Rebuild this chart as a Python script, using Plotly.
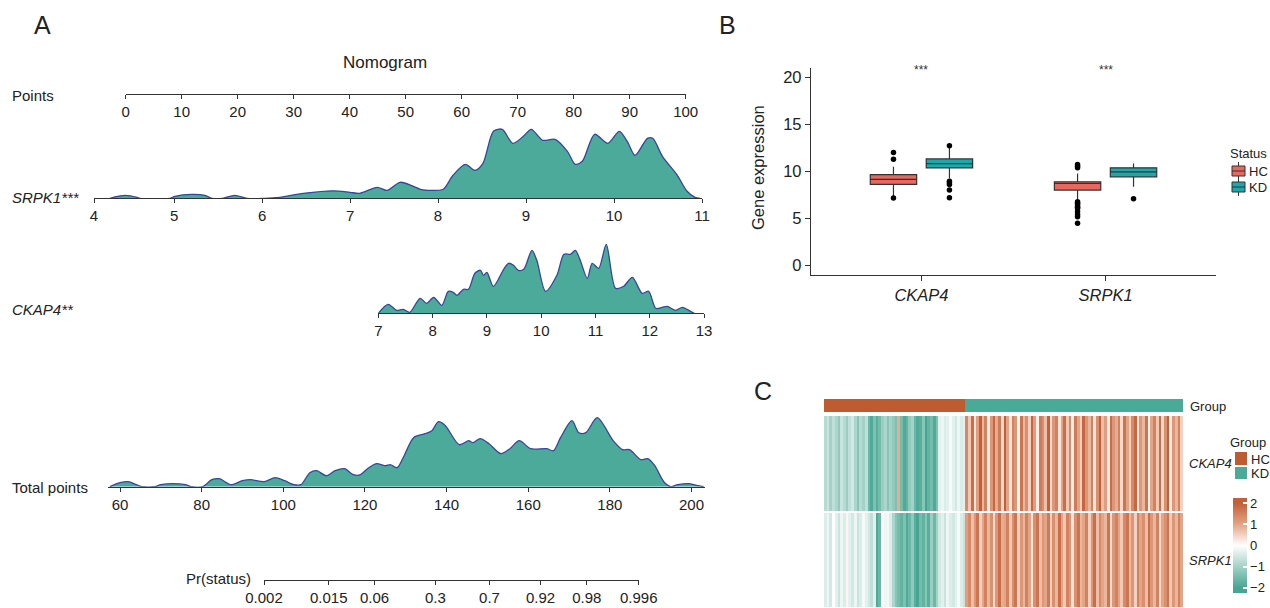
import numpy as np
import plotly.graph_objects as go

W, H = 1270, 608

# ---------------- Panel A: nomogram ----------------
points_ticks = list(range(0, 101, 10))

srpk1_tick_pos = [4.09, 5, 6, 7, 8, 9, 10, 11]
srpk1_tick_text = ["4", "5", "6", "7", "8", "9", "10", "11"]
srpk1_grid = [4.27, 4.31, 4.44, 4.58, 4.61, 4.95, 5.01, 5.20, 5.35, 5.43,
              5.55, 5.69, 5.83, 6.03, 6.20, 6.47, 6.81, 7.00, 7.11, 7.31,
              7.42, 7.57, 7.72, 7.80, 7.94, 8.06, 8.17, 8.31, 8.42, 8.51,
              8.63, 8.73, 8.85, 8.97, 9.06, 9.19, 9.33, 9.47, 9.56, 9.64,
              9.78, 9.93, 10.06, 10.15, 10.24, 10.38, 10.44, 10.55, 10.72,
              10.83, 10.92, 10.98]
srpk1_density = [0, 1, 3, 1, 0, 0, 2, 4, 3, 0,
                 0, 3, 0, 0, 1, 5, 7.5, 6, 5, 11,
                 8, 16, 12, 9, 8, 9, 23, 34, 28, 35,
                 67, 69, 55, 62, 69, 58, 59, 47, 34, 37,
                 64, 55, 67, 57, 43, 60, 60, 42, 23,
                 7, 1, 0]

ckap4_ticks = list(range(7, 14))
ckap4_grid = [7.00, 7.18, 7.34, 7.46, 7.58, 7.77, 7.89, 8.02, 8.17, 8.29,
              8.38, 8.45, 8.57, 8.66, 8.78, 8.88, 8.94, 9.00, 9.12, 9.31,
              9.40, 9.49, 9.58, 9.68, 9.83, 9.92, 10.08, 10.29, 10.42, 10.54,
              10.63, 10.72, 10.85, 10.94, 11.06, 11.20, 11.37, 11.52, 11.68, 11.86,
              11.98, 12.11, 12.23, 12.32, 12.48, 12.60, 12.75, 12.82]
ckap4_density = [0, 9, 3, 4, 1, 15, 10, 16, 8, 22,
                 21, 18, 24, 24, 40, 43, 38, 41, 27, 44,
                 50, 48, 43, 44, 63, 53, 22, 38, 59, 59,
                 63, 53, 35, 50, 45, 69, 25, 27, 36, 20,
                 22, 5, 6, 7, 3, 6, 2, 0]

total_ticks = list(range(60, 201, 20))
total_grid = [57.5, 60, 62, 64, 65.5, 68.5, 70, 73, 76, 77.5,
              80.2, 82.5, 84.3, 87.2, 90, 92, 95.3, 98, 100.3, 102.6,
              104.3, 106.5, 108.2, 110.5, 112.7, 115, 117.2, 118.9, 120.6, 122.8,
              125.1, 126.2, 127.9, 129.6, 131.9, 134.7, 136.4, 138, 139.7, 143.1,
              145.4, 146.5, 148.2, 150.4, 153.3, 155.5, 157.8, 160.6, 164.5, 166.2,
              167.9, 170.7, 172.4, 174.1, 176.9, 180.8, 183.1, 184.8, 187.6, 189.3,
              191, 193.2, 194.9, 196.6, 199.4, 201.7, 203]
total_density = [0, 4, 5, 2, 0, 0, 2, 3, 2, 0,
                 0, 7, 8, 2, 6, 7, 5, 9, 6, 2,
                 2, 14, 16, 11, 16, 18, 12, 12, 18, 23,
                 21, 22, 19, 31, 49, 53, 56, 65, 61, 42,
                 46, 44, 48, 43, 33, 38, 46, 38, 38, 36,
                 49, 66, 54, 54, 69, 46, 37, 37, 27, 28,
                 21, 5, 0, 2, 3, 1, 0]

pr_ticks = [0.002, 0.015, 0.06, 0.3, 0.7, 0.92, 0.98, 0.996]
pr_labels = ["0.002", "0.015", "0.06", "0.3", "0.7", "0.92", "0.98", "0.996"]

# ---------------- Panel B: boxplots ----------------
genes = ["CKAP4", "SRPK1"]
status = ["HC", "KD"]
box_q1 = {"HC": [8.61, 8.01], "KD": [10.37, 9.42]}
box_median = {"HC": [9.14, 8.71], "KD": [10.83, 9.95]}
box_q3 = {"HC": [9.66, 8.89], "KD": [11.32, 10.37]}
box_low = {"HC": [7.35, 7.02], "KD": [9.24, 8.36]}
box_high = {"HC": [10.48, 9.77], "KD": [12.60, 10.83]}
outliers = {
    ("HC", "CKAP4"): [11.99, 11.29, 7.18],
    ("KD", "CKAP4"): [12.72, 8.96, 8.78, 8.61, 8.01, 7.20],
    ("HC", "SRPK1"): [10.72, 10.55, 10.37, 6.77, 6.65, 6.53, 6.31, 6.20, 6.07,
                      5.71, 5.43, 5.19, 4.48],
    ("KD", "SRPK1"): [7.10],
}
signif = ["***", "***"]

# ---------------- Panel C: heatmap ----------------
hc_ckap4 = [-0.8, -0.6, -1.0, -0.7, -0.9, -1.2, -0.6, -0.8, -1.1, -0.7, -0.5, -0.9, -1.3, -0.8, -1.0, -0.7,
            -1.6, -1.9, -1.4, -1.8, -1.5,
            -1.1, -0.9, -1.3, -1.0, -1.2, -1.4,
            0.9,
            -1.5, -1.9, -1.7, -1.2, -1.0, -1.6, -1.9, -1.8, -1.3, -2.0, -1.7, -1.5, -1.9, -1.4,
            -0.3, -0.2, -0.4, -0.3, -0.1, -0.3, -0.5, -0.2, -0.4, -0.3]
hc_srpk1 = [-0.4, -0.2, -0.5, 0.0, -0.3, -0.6, -0.2, -0.4, 0.1, -0.3, -0.5, -0.2, -0.6, -0.4, -0.1, -0.3,
            -0.5, -0.7, -0.3, -1.9, -1.6,
            0.0, -0.2, 0.1, -0.4, -0.9, -1.3,
            -1.5,
            -1.7, -1.4, -1.9, -1.6, -1.2, -1.8, -2.0, -1.5, -1.7, -1.3, -1.8, -1.1, -1.6, -1.0,
            -0.5, -0.3, -0.6, -0.2, -0.4, -0.5, -0.3, -0.1, -0.4, -0.6]
kd_ckap4 = [1.4, 0.6, 1.8, 0.3, 1.1, 2.0, 0.8, 1.5, 0.2, 1.2, 1.9, 0.9, 1.6, 0.4, 2.1, 1.0, 0.3, 1.5, 1.2, 0.1,
            1.7, 0.8, 1.3, 0.5, 1.9, 1.1, 0.2, 1.6, 1.3, 0.7, 2.1, 0.4, 1.2, 1.5, 0.3, 1.0, 1.8, 0.6, 1.4, 0.2,
            1.6, 1.0, 0.5, 1.9, 1.2, 0.8, 1.5, 0.3, 1.3, 2.0, 0.7, 1.1, 0.2, 1.8, 1.2, 0.9, 1.5, 0.4, 1.7, 1.0,
            0.5, 1.4, 1.9, 0.3, 1.2, 0.8, 1.7, 0.1, 1.0, 1.5, 0.6, 1.8, 0.4, 1.3, 2.0, 0.2, 1.2, 0.8, 1.5, 0.5]
kd_srpk1 = [1.1, 1.4, 0.7, 1.2, 1.7, 0.5, 1.0, 1.5, 0.8, 1.3, 0.4, 1.2, 1.8, 0.9, 1.0, 1.5, 0.6, 1.3, 1.7, 0.5,
            1.2, 0.8, 1.5, 1.0, 0.3, 1.3, 1.7, 0.7, 1.2, 1.0, 1.6, 0.5, 1.3, 0.8, 1.8, 1.0, 0.6, 1.5, 1.2, 0.3,
            1.3, 1.7, 0.8, 1.0, 1.5, 0.5, 1.2, 1.8, 0.7, 1.4, 1.0, 0.8, 1.7, 0.4, 1.2, 1.5, 1.0, 0.6, 1.4, 1.7,
            0.8, 1.2, 0.5, 1.5, 1.0, 1.3, 0.7, 1.8, 1.2, 0.8, 1.5, 0.4, 1.0, 1.3, 1.7, 0.6, 1.2, 0.8, 1.5, 1.0]
heat_rows = ["CKAP4", "SRPK1"]
cbar_ticks = [2, 1, 0, -1, -2]
cbar_labels = ["2", "1", "0", "\u22121", "\u22122"]

# ---------------- styling ----------------
FONT = "Liberation Sans, Arial, sans-serif"
INK = "#222222"
AXC = "#333333"
FILL = "#4BAA9A"
EDGE = "#33489A"
HC_BOX = "#E8675F"
KD_BOX = "#1AA9AD"
HC_GRP = "#BF5B30"
KD_GRP = "#4AAA98"


def px(x):
    return x / W


def py(y):
    return 1 - y / H


fig = go.Figure()

# nomogram densities
dens_sets = [("x2", "y2", srpk1_grid, srpk1_density),
             ("x3", "y3", ckap4_grid, ckap4_density),
             ("x4", "y4", total_grid, total_density)]
for xa, ya, gx, gy in dens_sets:
    fig.add_trace(go.Scatter(x=gx, y=gy, mode="lines", xaxis=xa, yaxis=ya,
                             line=dict(color=EDGE, width=1.3, shape="spline", smoothing=0.8),
                             fill="tozeroy", fillcolor=FILL, showlegend=False, hoverinfo="skip"))
for xa, ya in [("x", "y"), ("x5", "y5")]:
    fig.add_trace(go.Scatter(x=[], y=[], xaxis=xa, yaxis=ya, showlegend=False))

# boxplots
dodge = {"HC": -0.152, "KD": 0.152}
box_colors = {"HC": HC_BOX, "KD": KD_BOX}
cat_pos = [i + 1 for i in range(len(genes))]
for s in status:
    xs = [c + dodge[s] for c in cat_pos]
    fig.add_trace(go.Box(
        x=xs, q1=box_q1[s], median=box_median[s], q3=box_q3[s],
        lowerfence=box_low[s], upperfence=box_high[s],
        width=0.252, whiskerwidth=0, boxpoints=False,
        fillcolor=box_colors[s], line=dict(color=AXC, width=1.2),
        name=s, xaxis="x6", yaxis="y6", hoverinfo="skip", showlegend=False))
for s in status:
    for gi, g in enumerate(genes):
        vals = outliers[(s, g)]
        fig.add_trace(go.Scatter(
            x=[cat_pos[gi] + dodge[s]] * len(vals), y=vals, mode="markers",
            marker=dict(color="black", size=5.5), xaxis="x6", yaxis="y6",
            showlegend=False, hoverinfo="skip"))

# heatmap + group bar
groups = ["HC"] * len(hc_ckap4) + ["KD"] * len(kd_ckap4)
group_code = [0 if g == "HC" else 1 for g in groups]
cols = list(range(len(groups)))
fig.add_trace(go.Heatmap(
    z=[group_code], x=cols, y=[0], zmin=0, zmax=1,
    colorscale=[[0, HC_GRP], [0.5, HC_GRP], [0.5, KD_GRP], [1, KD_GRP]],
    showscale=False, xaxis="x7", yaxis="y8", hoverinfo="skip"))
fig.add_trace(go.Heatmap(
    z=[hc_ckap4 + kd_ckap4, hc_srpk1 + kd_srpk1], x=cols, y=[0, 1],
    zmin=-2.25, zmax=2.25, ygap=2,
    colorscale=[[0, "#47A693"], [0.0556, "#47A693"], [0.2778, "#A3D2C7"], [0.5, "#FFFFFF"],
                [0.7222, "#E4A486"], [0.9444, "#C3603A"], [1, "#C3603A"]],
    colorbar=dict(thickness=14, thicknessmode="pixels", len=95, lenmode="pixels",
                  x=px(1233), xanchor="left", y=py(545.5), yanchor="middle",
                  xpad=0, ypad=0, outlinewidth=0, tickvals=cbar_ticks, ticktext=cbar_labels,
                  ticks="inside", ticklen=4, tickcolor="white", tickwidth=1.5,
                  tickfont=dict(size=13, color=INK, family=FONT)),
    xaxis="x7", yaxis="y7", hoverinfo="skip"))

# ---------------- axes ----------------
nomo_axis = dict(showline=True, linecolor=AXC, linewidth=1, ticks="outside", ticklen=4,
                 tickcolor=AXC, tickwidth=1, showgrid=False, zeroline=False,
                 tickfont=dict(size=15, color=INK, family=FONT))
hidden = dict(visible=False, showgrid=False, zeroline=False)


def logit(p):
    return np.log(p / (1 - p))


layout_axes = dict(
    xaxis=dict(nomo_axis, domain=[px(125.7), px(685.7)], range=[0, 100],
               tickvals=points_ticks, anchor="y"),
    yaxis=dict(hidden, domain=[py(93.5), py(88)], range=[0, 1], anchor="x"),
    xaxis2=dict(nomo_axis, domain=[px(94), px(702)], range=[srpk1_tick_pos[0], srpk1_tick_pos[-1]],
                tickvals=srpk1_tick_pos, ticktext=srpk1_tick_text, anchor="y2"),
    yaxis2=dict(hidden, domain=[py(198.3), py(198.3 - 72)], range=[0, 72], anchor="x2"),
    xaxis3=dict(nomo_axis, domain=[px(378.3), px(704)], range=[ckap4_ticks[0], ckap4_ticks[-1]],
                tickvals=ckap4_ticks, anchor="y3"),
    yaxis3=dict(hidden, domain=[py(313.3), py(313.3 - 72)], range=[0, 72], anchor="x3"),
    xaxis4=dict(nomo_axis, domain=[px(108.3), px(705)], range=[57.13, 203.3],
                tickvals=total_ticks, anchor="y4"),
    yaxis4=dict(hidden, domain=[py(486.7), py(486.7 - 72)], range=[0, 72], anchor="x4"),
    xaxis5=dict(nomo_axis, domain=[px(264), px(638.7)],
                range=[logit(pr_ticks[0]), logit(pr_ticks[-1])],
                tickvals=[logit(p) for p in pr_ticks], ticktext=pr_labels, anchor="y5"),
    yaxis5=dict(hidden, domain=[py(580), py(575)], range=[0, 1], anchor="x5"),
    xaxis6=dict(domain=[px(811), px(1216)], range=[0.4, 2.6], tickvals=cat_pos,
                ticktext=["<i>%s</i>" % g for g in genes], showline=True, linecolor=AXC,
                linewidth=1.3, ticks="outside", ticklen=5, tickcolor=AXC, showgrid=False,
                zeroline=False, tickfont=dict(size=16.5, color=INK, family=FONT), anchor="y6"),
    yaxis6=dict(domain=[py(275), py(67.7)], range=[-1, 21], tickvals=[0, 5, 10, 15, 20],
                showline=True, linecolor=AXC, linewidth=1.3, ticks="outside", ticklen=5,
                tickcolor=AXC, showgrid=False, zeroline=False,
                tickfont=dict(size=16.5, color=INK, family=FONT), anchor="x6"),
    xaxis7=dict(hidden, domain=[px(824), px(1183)], range=[-0.5, len(cols) - 0.5], anchor="y7"),
    yaxis7=dict(hidden, domain=[0, py(415)], range=[1.5, -0.5], anchor="x7"),
    yaxis8=dict(hidden, domain=[py(412), py(399)], range=[-0.5, 0.5], anchor="x7"),
)

# ---------------- text ----------------
ann = []


def text(x, y, s, size=15, xanchor="center", italic=False, angle=0, color=INK):
    ann.append(dict(x=px(x), y=py(y), xref="paper", yref="paper", text=s, showarrow=False,
                    xanchor=xanchor, yanchor="middle", textangle=angle,
                    font=dict(size=size, color=color, family=FONT,
                              style="italic" if italic else "normal")))


text(42, 25, "A", size=25)
text(727, 25, "B", size=25)
text(763, 391, "C", size=25)
text(385, 62, "Nomogram", size=17)
text(10, 95, "Points", xanchor="left")
text(10, 197, "SRPK1***", xanchor="left", italic=True)
text(10, 310, "CKAP4**", xanchor="left", italic=True)
text(10, 487, "Total points", xanchor="left")
text(253, 578, "Pr(status)", xanchor="right")

text(758, 168, "Gene expression", size=16.5, angle=-90)
for gi, s in enumerate(signif):
    ann.append(dict(x=cat_pos[gi], y=20.75, xref="x6", yref="y6", text=s, showarrow=False,
                    font=dict(size=12, color=AXC, family=FONT)))

shapes = []

# Status legend: small box glyphs
text(1228, 153, "Status", size=13, xanchor="left")
for s, yc in zip(status, [171, 187]):
    shapes.append(dict(type="line", xref="paper", yref="paper", x0=px(1238.5), x1=px(1238.5),
                       y0=py(yc - 9), y1=py(yc + 9), line=dict(color=AXC, width=1)))
    shapes.append(dict(type="rect", xref="paper", yref="paper", x0=px(1232), x1=px(1245),
                       y0=py(yc + 5), y1=py(yc - 5), fillcolor=box_colors[s],
                       line=dict(color=AXC, width=1)))
    shapes.append(dict(type="line", xref="paper", yref="paper", x0=px(1232), x1=px(1245),
                       y0=py(yc), y1=py(yc), line=dict(color=AXC, width=1)))
    text(1247, yc, s, size=13, xanchor="left")

# heatmap annotation labels and Group legend
text(1188, 406, "Group", size=13, xanchor="left")
text(1228, 442, "Group", size=13, xanchor="left")
text(1249, 459, "HC", size=13, xanchor="left")
text(1249, 473, "KD", size=13, xanchor="left")
for r, y in zip(heat_rows, [463, 560]):
    text(1187, y, r, size=13, xanchor="left", italic=True)

shapes += [
    dict(type="rect", xref="paper", yref="paper", x0=px(1235), x1=px(1247),
         y0=py(465), y1=py(452), fillcolor=HC_GRP, line=dict(width=0)),
    dict(type="rect", xref="paper", yref="paper", x0=px(1235), x1=px(1247),
         y0=py(479), y1=py(467), fillcolor=KD_GRP, line=dict(width=0)),
]

fig.update_layout(
    width=W, height=H, margin=dict(l=0, r=0, t=0, b=0),
    paper_bgcolor="white", plot_bgcolor="white", template="none",
    font=dict(family=FONT, color=INK),
    annotations=ann, shapes=shapes,
    showlegend=False,
    **layout_axes,
)

fig.write_html("out.html")
